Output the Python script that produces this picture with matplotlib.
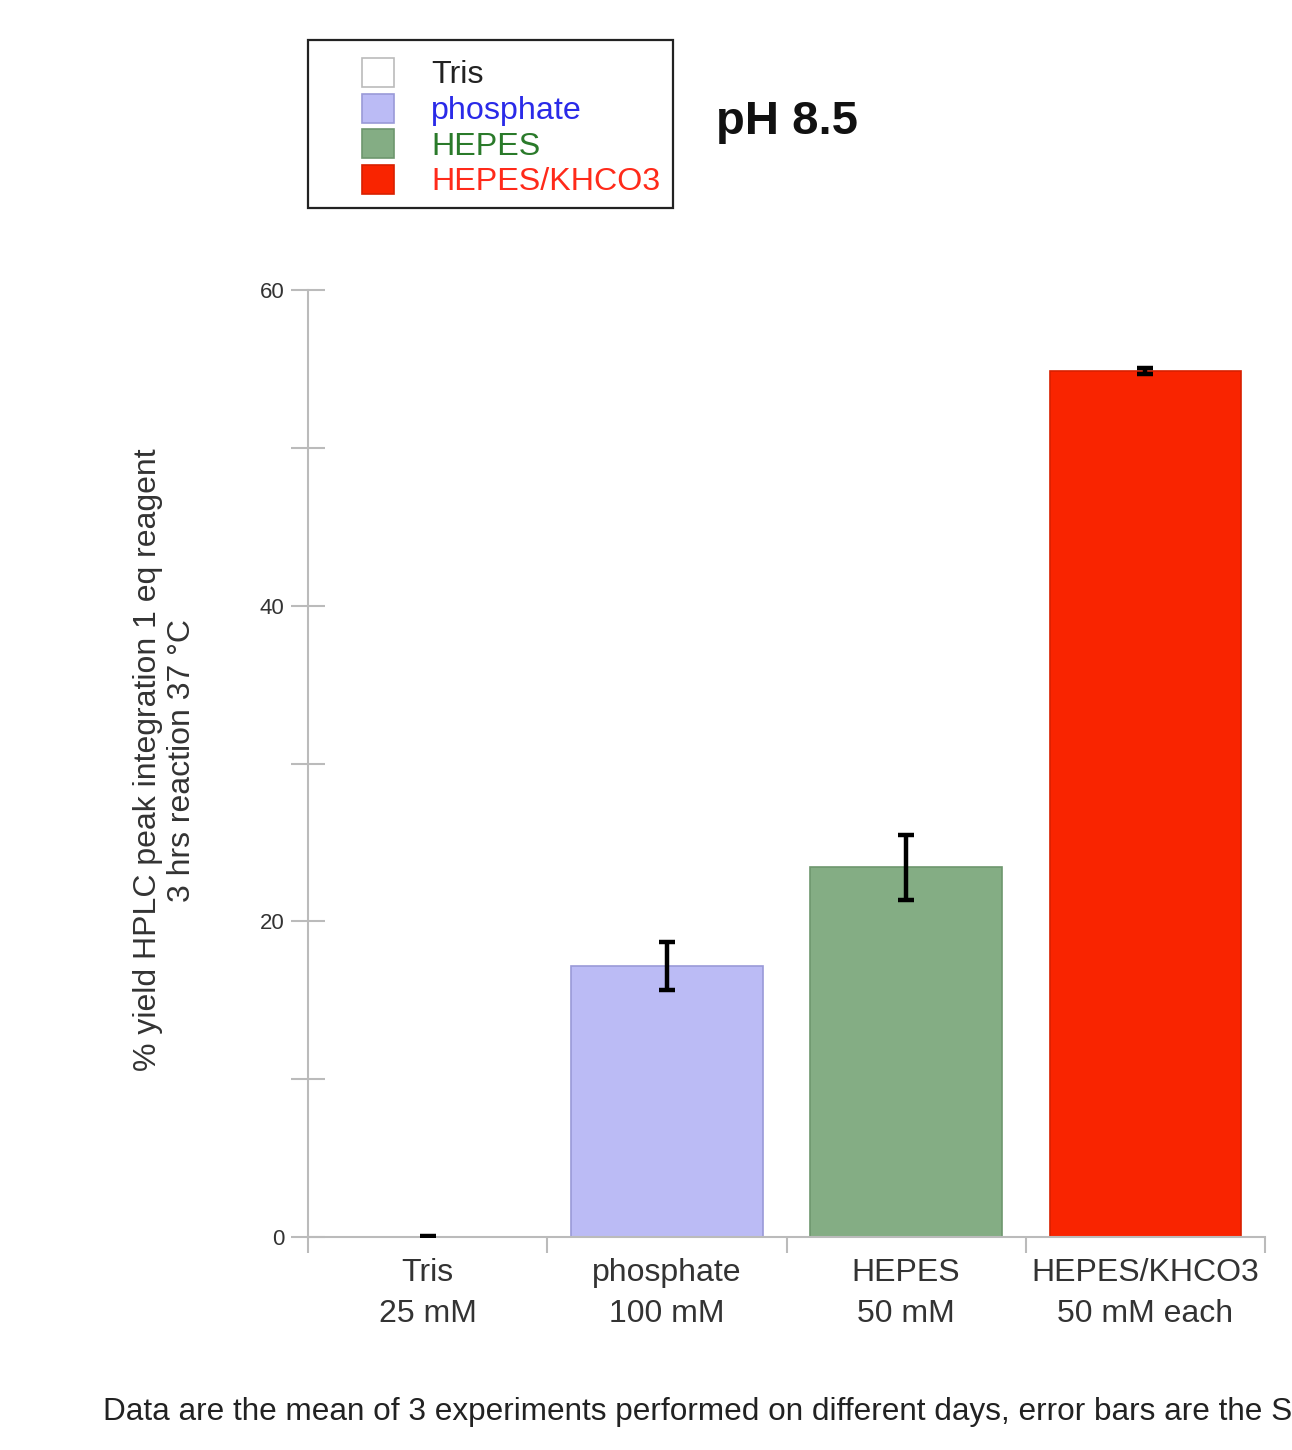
import numpy as np
import matplotlib
matplotlib.use('Agg')
from matplotlib import pyplot as plt
from matplotlib.patches import Patch, Rectangle
from matplotlib.ticker import FixedLocator, NullFormatter

plt.rcParams['font.family'] = ['Liberation Sans', 'DejaVu Sans']

# Mean yield and error for each buffer (pH 8.5)
buffers = ['Tris', 'phosphate', 'HEPES', 'HEPES/KHCO3']
tick_labels = ['Tris\n25 mM', 'phosphate\n100 mM', 'HEPES\n50 mM', 'HEPES/KHCO3\n50 mM each']
means = [0.0, 17.14, 23.42, 54.85]
errors = [0.05, 1.52, 2.06, 0.2]

fill_colors = ['#ffffff', '#bbbbf5', '#84ad84', '#f92400']
edge_colors = ['#bbbbbb', '#9a9ad8', '#6e976e', '#d82000']
text_colors = ['#222222', '#2a2ae8', '#2a7a2a', '#ff2a1a']

fig = plt.figure(figsize=(12.92, 14.5), dpi=100)
ax = fig.add_axes([308 / 1292, 1 - 1237 / 1450, 957 / 1292, 947 / 1450])

x = np.arange(len(buffers))
ax.bar(x, means, width=0.8, color=fill_colors, edgecolor=edge_colors, linewidth=1.2, zorder=2)
ax.errorbar(x, means, yerr=errors, fmt='none', ecolor='black', elinewidth=3.2,
            capsize=6, capthick=3.2, zorder=3)

ax.set_xlim(-0.5, 3.5)
ax.set_ylim(0, 60)

# Axes styling
for side in ['top', 'right']:
    ax.spines[side].set_visible(False)
for side in ['left', 'bottom']:
    ax.spines[side].set_color('#bbbbbb')
    ax.spines[side].set_linewidth(1.5)

# x: tick marks between groups, labels under the bars
ax.xaxis.set_major_locator(FixedLocator(np.arange(-0.5, 4.0, 1.0)))
ax.xaxis.set_major_formatter(NullFormatter())
ax.xaxis.set_minor_locator(FixedLocator(x))
ax.set_xticklabels(tick_labels, minor=True, fontsize=23, color='#333333', linespacing=1.5)
ax.tick_params(axis='x', which='major', direction='out', length=11.5, width=1.5, color='#bbbbbb')
ax.tick_params(axis='x', which='minor', length=0, pad=15)

# y: labelled every 20, unlabelled ticks in between
ax.set_yticks([0, 20, 40, 60])
ax.set_yticks([10, 30, 50], minor=True)
ax.tick_params(axis='y', which='both', direction='inout', length=24, width=1.5,
               color='#bbbbbb', labelsize=16, labelcolor='#333333', pad=5)

fig.text(165 / 1292, 1 - 760 / 1450,
         '% yield HPLC peak integration 1 eq reagent\n3 hrs reaction 37 \u00b0C',
         rotation=90, ha='center', va='center', multialignment='center',
         fontsize=23, color='#333333', linespacing=1.2)

# Legend with its own frame
handles = [Patch(facecolor=fc, edgecolor=ec, linewidth=1.2) for fc, ec in zip(fill_colors, edge_colors)]
leg = fig.legend(handles, buffers, loc='upper left', bbox_to_anchor=(362 / 1292, 1 - 58 / 1450),
                 frameon=False, fontsize=23.2, handlelength=1.0, handleheight=1.0,
                 handletextpad=1.15, labelspacing=0.1, borderpad=0, borderaxespad=0,
                 labelcolor=text_colors)
fig.add_artist(Rectangle((308 / 1292, 1 - 208 / 1450), 365 / 1292, 168 / 1450,
                         transform=fig.transFigure, fill=False, edgecolor='#222222', linewidth=1.6))

fig.text(716 / 1292, 1 - 122 / 1450, 'pH 8.5', fontsize=34, fontweight='bold',
         ha='left', va='center', color='#111111')

fig.text(103 / 1292, 1 - 1412 / 1450,
         'Data are the mean of 3 experiments performed on different days, error bars are the SD',
         fontsize=22.7, ha='left', va='center', color='#222222')

fig.savefig('out.png', dpi=100)
